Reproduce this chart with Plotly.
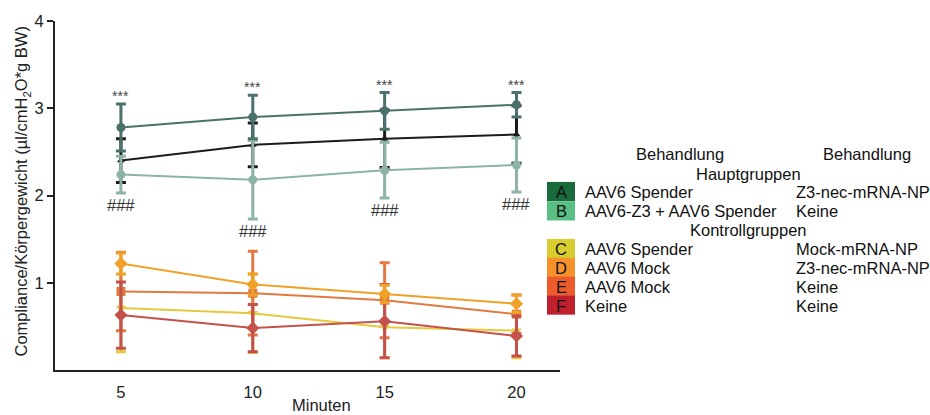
import plotly.graph_objects as go

# ---------------- data ----------------
minutes = [5, 10, 15, 20]

A_name = "A: AAV6 Spender / Z3-nec-mRNA-NP"
A_mean = [2.78, 2.90, 2.97, 3.04]
A_err = [0.27, 0.25, 0.21, 0.14]

B_name = "B: AAV6-Z3 + AAV6 Spender / Keine"
B_mean = [2.24, 2.18, 2.29, 2.35]
B_err = [0.21, 0.45, 0.32, 0.31]

H_name = "Referenz"
H_mean = [2.40, 2.58, 2.65, 2.70]
H_err = [0.25, 0.25, 0.33, 0.33]

C_name = "C: AAV6 Spender / Mock-mRNA-NP"
C_mean = [0.71, 0.65, 0.49, 0.45]
C_err = [0.50, 0.45, 0.35, 0.31]

D_name = "D: AAV6 Mock / Z3-nec-mRNA-NP"
D_mean = [1.22, 0.98, 0.87, 0.76]
D_err = [0.12, 0.12, 0.10, 0.10]

E_name = "E: AAV6 Mock / Keine"
E_mean = [0.90, 0.88, 0.80, 0.64]
E_err = [0.45, 0.48, 0.43, 0.22]

F_name = "F: Keine / Keine"
F_mean = [0.63, 0.48, 0.56, 0.39]
F_err = [0.38, 0.27, 0.42, 0.23]

star_label = "***"
hash_label = "###"

legend_letters_main = ["A", "B"]
legend_col1_main = ["AAV6 Spender", "AAV6-Z3 + AAV6 Spender"]
legend_col2_main = ["Z3-nec-mRNA-NP", "Keine"]
legend_letters_ctrl = ["C", "D", "E", "F"]
legend_col1_ctrl = ["AAV6 Spender", "AAV6 Mock", "AAV6 Mock", "Keine"]
legend_col2_ctrl = ["Mock-mRNA-NP", "Z3-nec-mRNA-NP", "Keine", "Keine"]

x_title = "Minuten"
y_title = "Compliance/Körpergewicht (µl/cmH<sub>2</sub>O*g BW)"

# ---------------- style ----------------
FONT = "Liberation Sans, Arial, sans-serif"
W, H = 930, 415
ML, MR, MT, MB = 55, 370, 18, 45
PW, PH = W - ML - MR, H - MT - MB


def px(x):
    return (x - ML) / PW


def py(y):
    return (H - MB - y) / PH


fig = go.Figure()


def add_series(name, mean, err, color, symbol, msize=9, lw=2):
    fig.add_trace(go.Scatter(
        x=minutes, y=mean, name=name, mode="lines+markers",
        line=dict(color=color, width=lw),
        marker=dict(symbol=symbol, size=msize, color=color),
        error_y=dict(type="data", array=err, visible=True, color=color,
                     thickness=3, width=5),
        showlegend=False,
    ))


add_series(H_name, H_mean, H_err, "#1c1c1c", "triangle-up", 7)
add_series(B_name, B_mean, B_err, "#8db3a4", "circle")
add_series(A_name, A_mean, A_err, "#4a716c", "circle")
add_series(C_name, C_mean, C_err, "#e6c83c", "triangle-down")
add_series(E_name, E_mean, E_err, "#e07a42", "square", 9)
add_series(F_name, F_mean, F_err, "#c4514b", "diamond", 10)
add_series(D_name, D_mean, D_err, "#f0a228", "diamond", 10)

annotations = []
for xv, m, e in zip(minutes, A_mean, A_err):
    annotations.append(dict(x=xv, y=m + e, xref="x", yref="y", text=star_label,
                            showarrow=False, yanchor="bottom", yshift=-2,
                            font=dict(family=FONT, size=14, color="#444")))
for xv, m, e in zip(minutes, B_mean, B_err):
    annotations.append(dict(x=xv, y=m - e, xref="x", yref="y", text=hash_label,
                            showarrow=False, yanchor="top", yshift=-1,
                            font=dict(family=FONT, size=16.5, color="#333")))

# axis titles
annotations.append(dict(x=px(22), y=py(190), xref="paper", yref="paper",
                        text=y_title, textangle=-90, showarrow=False,
                        xanchor="center", yanchor="middle",
                        font=dict(family=FONT, size=16.5, color="#222")))
annotations.append(dict(x=px(321), y=py(405), xref="paper", yref="paper",
                        text=x_title, showarrow=False,
                        xanchor="center", yanchor="middle",
                        font=dict(family=FONT, size=16.5, color="#222")))

# legend table
LF = dict(family=FONT, size=16.5, color="#111")
shapes = []


def txt(x, y, s, anchor="left"):
    annotations.append(dict(x=px(x), y=py(y), xref="paper", yref="paper", text=s,
                            showarrow=False, xanchor=anchor, yanchor="middle",
                            font=LF))


txt(680, 152, "Behandlung", "center")
txt(867, 152, "Behandlung", "center")
txt(748, 172, "Hauptgruppen", "center")
txt(748, 229, "Kontrollgruppen", "center")

swatch_main = ["#1a6b3c", "#5abf85"]
swatch_ctrl = ["#d9cc2e", "#f5922a", "#ec5c2a", "#c0202e"]
rows_main = [190, 209.5]
rows_ctrl = [247.5, 266.5, 285.5, 304.5]


def legend_rows(letters, c1, c2, colors, rows):
    for L, a, b, col, yc in zip(letters, c1, c2, colors, rows):
        shapes.append(dict(type="rect", xref="paper", yref="paper",
                           x0=px(547), x1=px(575), y0=py(yc - 9.7), y1=py(yc + 9.7),
                           fillcolor=col, line=dict(width=0)))
        txt(561, yc + 0.5, L, "center")
        txt(583, yc + 0.5, a)
        txt(794, yc + 0.5, b)


legend_rows(legend_letters_main, legend_col1_main, legend_col2_main, swatch_main, rows_main)
legend_rows(legend_letters_ctrl, legend_col1_ctrl, legend_col2_ctrl, swatch_ctrl, rows_ctrl)

fig.update_layout(
    width=W, height=H,
    margin=dict(l=ML, r=MR, t=MT, b=MB, pad=0),
    paper_bgcolor="white", plot_bgcolor="white",
    font=dict(family=FONT, size=16, color="#222"),
    xaxis=dict(range=[2.5, 21.65], tickvals=minutes, showgrid=False, zeroline=False,
               showline=True, linecolor="#222", linewidth=2,
               ticks="outside", ticklen=6, tickcolor="rgba(0,0,0,0)",
               tickfont=dict(family=FONT, size=16.5, color="#222")),
    yaxis=dict(range=[0, 4], tickvals=[1, 2, 3, 4], showgrid=False, zeroline=False,
               showline=True, linecolor="#222", linewidth=2,
               ticks="outside", ticklen=6, tickwidth=2, tickcolor="#222",
               tickfont=dict(family=FONT, size=16.5, color="#222")),
    annotations=annotations,
    shapes=shapes,
)

fig.write_html(
    "out.html",
    config={"displayModeBar": False},
    post_script="document.body.style.margin='0';document.body.style.padding='0';",
)
